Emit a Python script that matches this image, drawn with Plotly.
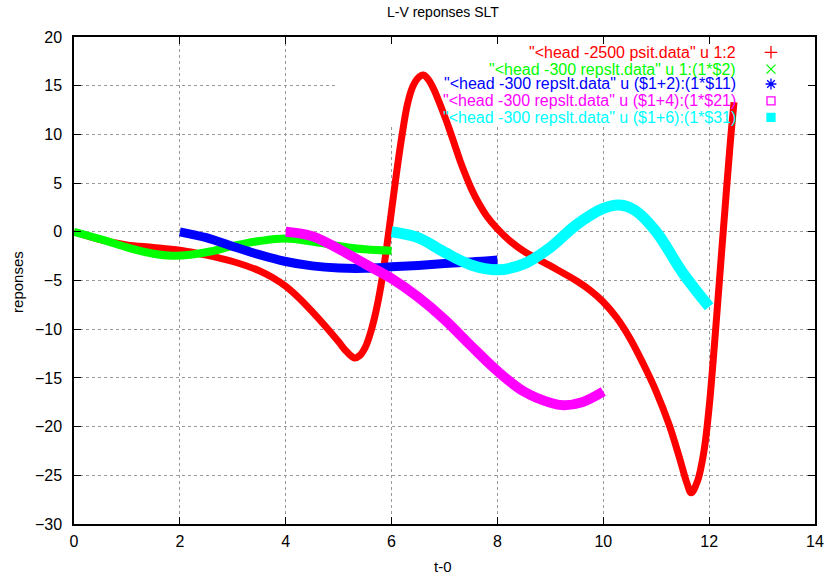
import plotly.graph_objects as go

# ---------------- data ----------------
red_x = [0, 0.5, 1.0, 1.5, 2.0, 2.5, 3.0, 3.5, 3.75, 4.0, 4.25, 4.5, 4.75, 5.0, 5.15,
         5.3, 5.4, 5.5, 5.6, 5.7, 5.8, 5.9, 6.0, 6.1, 6.2, 6.3, 6.4, 6.5, 6.6,
         6.7, 6.8, 6.9, 7.0, 7.1, 7.2, 7.3, 7.4, 7.5, 7.65, 7.8, 8.0, 8.25, 8.5,
         9.0, 9.5, 9.75, 10.0, 10.25, 10.5, 10.75, 11.0, 11.25, 11.45, 11.58,
         11.66, 11.78, 11.9, 12.0, 12.1, 12.2, 12.3, 12.4, 12.47]
red_y = [0, -0.8, -1.35, -1.6, -1.9, -2.4, -3.05, -4.0, -4.7, -5.6, -6.8, -8.2, -9.7,
         -11.3, -12.3, -12.95, -12.7, -11.9, -10.4, -8.3, -5.5, -1.9, 2.2, 6.3, 10.0,
         13.1, 14.9, 15.8, 16.1, 15.6, 14.6, 13.3, 11.9, 10.4, 8.8, 7.2, 5.8, 4.5,
         2.9, 1.6, 0.3, -1.0, -2.0, -3.5, -5.05, -6.0, -7.2, -8.8, -10.9, -13.5,
         -16.4, -19.9, -23.4, -25.8, -26.8, -25.6, -22.6, -18.0, -11.6, -4.6, 2.4,
         9.2, 13.3]

green_x = [0, 0.5, 1.0, 1.5, 1.85, 2.2, 2.6, 3.0, 3.5, 4.0, 4.5, 5.0, 5.5, 6.0]
green_y = [0, -0.75, -1.6, -2.25, -2.45, -2.35, -2.0, -1.45, -0.95, -0.7, -1.0,
           -1.45, -1.8, -1.95]

blue_x = [2.0, 2.5, 3.0, 3.5, 4.0, 4.5, 5.0, 5.5, 6.0, 6.5, 7.0, 7.5, 8.0]
blue_y = [0, -0.6, -1.5, -2.35, -3.05, -3.5, -3.72, -3.75, -3.6, -3.45, -3.25,
          -3.1, -2.9]

mag_x = [4.0, 4.5, 5.0, 5.5, 6.0, 6.5, 7.0, 7.5, 8.0, 8.5, 9.0, 9.25, 9.6, 10.0]
mag_y = [0, -0.45, -1.75, -3.3, -4.8, -6.7, -9.0, -11.7, -14.3, -16.4, -17.55,
         -17.8, -17.5, -16.4]

cyan_x = [6.0, 6.5, 7.0, 7.5, 8.0, 8.5, 9.0, 9.5, 10.0, 10.3, 10.6, 11.0, 11.5, 12.0]
cyan_y = [0, -0.6, -2.1, -3.4, -3.9, -3.3, -1.6, 0.75, 2.4, 2.75, 2.2, 0.0, -4.2, -7.7]

labels = [
    '"<head -2500 psit.data" u 1:2',
    '"<head -300 repslt.data" u 1:(1*$2)',
    '"<head -300 repslt.data" u ($1+2):(1*$11)',
    '"<head -300 repslt.data" u ($1+4):(1*$21)',
    '"<head -300 repslt.data" u ($1+6):(1*$31)',
]
x_ticks = [0, 2, 4, 6, 8, 10, 12, 14]
y_ticks = [20, 15, 10, 5, 0, -5, -10, -15, -20, -25, -30]

# ---------------- styles ----------------
colors = ["#ff0000", "#00ff00", "#0000ff", "#ff00ff", "#00ffff"]
widths = [7, 8, 9, 10, 11]
symbols = ["cross-thin-open", "x-thin-open", "asterisk-open", "square-open", "square"]
FONT = "Liberation Sans, Arial, Helvetica, sans-serif"

series = [(red_x, red_y), (green_x, green_y), (blue_x, blue_y),
          (mag_x, mag_y), (cyan_x, cyan_y)]

fig = go.Figure()
for (xs, ys), c, w in zip(series, colors, widths):
    fig.add_trace(go.Scatter(x=xs, y=ys, mode="lines",
                             line=dict(color=c, width=w, shape="spline", smoothing=1.0),
                             showlegend=False, hoverinfo="skip"))

# key samples on an overlay axis pair (0..1 inside the plot area)
KEY_TEXT_X = 0.896
KEY_SAMPLE_X = 0.9406
KEY_ROWS = [0.9686, 0.934, 0.9035, 0.869, 0.835]
for lab, c, s, ry in zip(labels, colors, symbols, KEY_ROWS):
    fig.add_trace(go.Scatter(x=[KEY_SAMPLE_X], y=[ry], xaxis="x2", yaxis="y2",
                             mode="markers",
                             marker=dict(symbol=s, size=8 if "square" in s else 9,
                                         color=c, line=dict(color=c, width=1.3)),
                             showlegend=False, hoverinfo="skip"))
    fig.add_annotation(xref="paper", yref="paper", x=KEY_TEXT_X, y=ry,
                       text=lab, showarrow=False, xanchor="right", yanchor="middle",
                       font=dict(family=FONT, size=16, color=c))

# white key box hides the grid behind the key
fig.add_shape(type="rect", xref="x", yref="y", x0=4.93, x1=14, y0=11.0, y1=20,
              fillcolor="white", line=dict(width=0), layer="between")

axis_common = dict(showline=True, linecolor="black", linewidth=1.5, mirror="ticks",
                   ticks="inside", ticklen=7, tickwidth=1, tickcolor="black",
                   showgrid=True, gridcolor="#9a9a9a", griddash="dot", gridwidth=1,
                   zeroline=False, automargin=False,
                   tickfont=dict(family=FONT, size=16, color="black"))

fig.update_layout(
    width=827, height=574,
    margin=dict(l=74, r=12, t=37, b=50),
    paper_bgcolor="white", plot_bgcolor="white",
    showlegend=False,
    xaxis=dict(range=[0, 14], tickvals=x_ticks, ticklabelstandoff=2, **axis_common),
    yaxis=dict(range=[-30, 20], tickvals=y_ticks, ticklabelstandoff=7, **axis_common),
    xaxis2=dict(range=[0, 1], overlaying="x", visible=False),
    yaxis2=dict(range=[0, 1], overlaying="y", visible=False),
)

fig.add_annotation(xref="paper", yref="paper", x=0.4975, y=1, yshift=25,
                   text="L-V reponses SLT", showarrow=False, xanchor="center",
                   yanchor="middle", font=dict(family=FONT, size=14, color="black"))
fig.add_annotation(xref="paper", yref="paper", x=-0.0756, y=0.497, textangle=-90,
                   text="reponses", showarrow=False, xanchor="center",
                   yanchor="middle", font=dict(family=FONT, size=15, color="black"))
fig.add_annotation(xref="paper", yref="paper", x=0.4975, y=0, yshift=-32,
                   text="t-0", showarrow=False, xanchor="center",
                   yanchor="top", font=dict(family=FONT, size=15, color="black"))

fig.write_html("out.html", config={"displayModeBar": False},
               post_script="document.body.style.margin='0';")
